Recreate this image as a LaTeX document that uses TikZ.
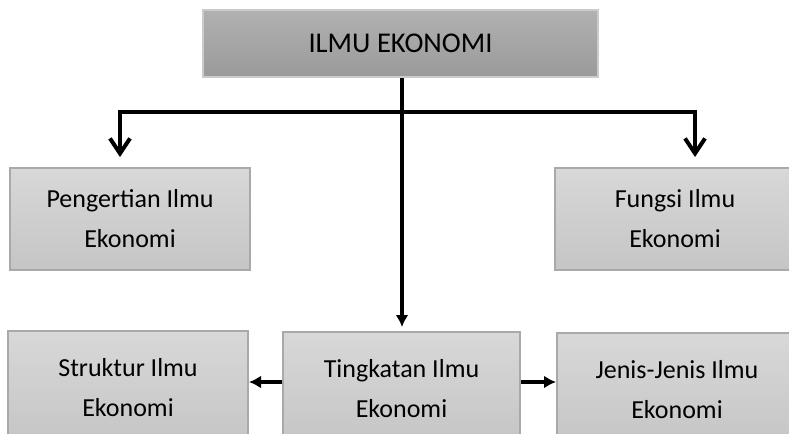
\documentclass[tikz,border=0pt]{standalone}
\usepackage{fontspec}
\setmainfont{Carlito}
\usepackage{tikz}
\usepackage{xcolor}
\usetikzlibrary{arrows.meta}
\definecolor{garis}{HTML}{A9A9A9}
\definecolor{atasA}{HTML}{B1B1B1}
\definecolor{atasB}{HTML}{9A9A9A}
\definecolor{isiA}{HTML}{D8D8D8}
\definecolor{isiB}{HTML}{C5C5C5}
\tikzstyle{kotak} = [rectangle, draw=garis, line width=1pt, top color=isiA, bottom color=isiB, align=center, inner sep=0pt, text=black, font=\fontsize{13}{20}\selectfont]
\tikzstyle{judul} = [kotak, top color=atasA, bottom color=atasB, draw=garis!60, font=\fontsize{14.3}{18}\selectfont]

\begin{document}
\begin{tikzpicture}[x=0.5pt,y=-0.5pt,line width=2pt]
  \useasboundingbox (0,0) rectangle (789,434);
  \fill[white] (0,0) rectangle (789,434);
  \clip (0,0) rectangle (789,434);

  \node[judul, minimum width=197.5pt, minimum height=33.5pt] (eko) at (400.5,43.5) {ILMU EKONOMI};
  \node[kotak, minimum width=120pt, minimum height=51pt] (peng) at (130,219) {Pengertian Ilmu\\Ekonomi};
  \node[kotak, minimum width=120pt, minimum height=51pt] (fung) at (675,219) {Fungsi Ilmu\\Ekonomi};
  \node[kotak, minimum width=120pt, minimum height=56.5pt] (stru) at (128,387.5) {Struktur Ilmu\\Ekonomi};
  \node[kotak, minimum width=118.5pt, minimum height=56.5pt] (ting) at (401.5,388.5) {Tingkatan Ilmu\\Ekonomi};
  \node[kotak, minimum width=120pt, minimum height=56.5pt] (jenis) at (677,389.5) {Jenis-Jenis Ilmu\\Ekonomi};

  \coordinate (cabang) at (402,112);
  \coordinate (kiri) at (120,112);
  \coordinate (kanan) at (695,112);

  \draw[{Straight Barb[length=7.5pt,width=10pt]}-{Straight Barb[length=7.5pt,width=10pt]}, shorten <=5pt, shorten >=5pt]
    (kiri |- peng.north) -- (kiri) -- (kanan) -- (kanan |- fung.north);
  \draw[-{Latex[length=6pt,width=6.5pt]}, shorten >=2pt] (cabang |- eko.south) -- (cabang |- ting.north);
  \draw[-{Latex[length=6pt,width=6.5pt]}] ([yshift=3.25pt]ting.west) -- ([yshift=3.25pt]ting.west -| stru.east);
  \draw[-{Latex[length=6pt,width=6.5pt]}] ([yshift=3.25pt]ting.east) -- ([yshift=3.25pt]ting.east -| jenis.west);
\end{tikzpicture}
\end{document}
